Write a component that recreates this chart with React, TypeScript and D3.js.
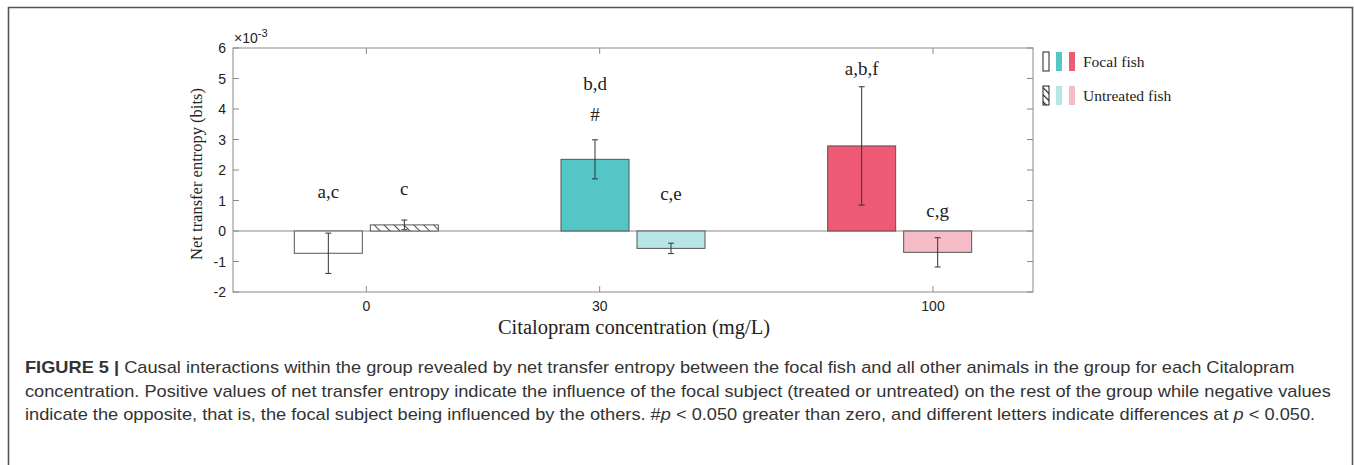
import React from "react";
import * as d3 from "d3";

const concentrations = ["0", "30", "100"];
const tickPositions = [1, 1.875, 3.125];
const focalMean = [-0.73, 2.35, 2.79];
const focalErr = [0.66, 0.64, 1.94];
const untreatedMean = [0.2, -0.57, -0.7];
const untreatedErr = [0.16, 0.17, 0.48];
const focalLabels = [["a,c"], ["b,d", "#"], ["a,b,f"]];
const untreatedLabels = ["c", "c,e", "c,g"];
const focalColors = ["#ffffff", "#53C6C5", "#EE5A74"];
const untreatedColors = ["hatch", "#B7E5E4", "#F5BCC7"];
const yTicks = [-2, -1, 0, 1, 2, 3, 4, 5, 6];
const legendItems = ["Focal fish", "Untreated fish"];
const captionLines = [
  "Causal interactions within the group revealed by net transfer entropy between the focal fish and all other animals in the group for each Citalopram",
  "concentration. Positive values of net transfer entropy indicate the influence of the focal subject (treated or untreated) on the rest of the group while negative values",
  "indicate the opposite, that is, the focal subject being influenced by the others. #",
];

export default function App() {
  const W = 1354, H = 465;
  const left = 233, right = 1033, top = 48, bottom = 292;
  const x = d3.scaleLinear().domain([0.5, 3.5]).range([left, right]);
  const y = d3.scaleLinear().domain([-2, 6]).range([bottom, top]);
  const barW = 68;
  const gap = 8;
  const serif = "'Liberation Serif', 'DejaVu Serif', serif";
  const sans = "'Liberation Sans', Arial, sans-serif";
  const axisColor = "#8a8a8a";
  const barStroke = "#555";

  const fillFor = (c: string) => (c === "hatch" ? "url(#hatch)" : c);

  const bars: any[] = [];
  concentrations.forEach((_, i) => {
    const cx = x(i + 1);
    const groups = [
      { mean: focalMean[i], err: focalErr[i], color: focalColors[i], x0: cx - gap / 2 - barW },
      { mean: untreatedMean[i], err: untreatedErr[i], color: untreatedColors[i], x0: cx + gap / 2 },
    ];
    groups.forEach((g, j) => {
      const y0 = y(Math.max(0, g.mean));
      const h = Math.abs(y(g.mean) - y(0));
      const ex = g.x0 + barW / 2;
      bars.push(
        <g key={`b${i}-${j}`}>
          <rect x={g.x0} y={y0} width={barW} height={h} fill={fillFor(g.color)} stroke={barStroke} strokeWidth={1} />
          <line x1={ex} x2={ex} y1={y(g.mean + g.err)} y2={y(g.mean - g.err)} stroke="#333" strokeWidth={1} />
          <line x1={ex - 3} x2={ex + 3} y1={y(g.mean + g.err)} y2={y(g.mean + g.err)} stroke="#333" strokeWidth={1} />
          <line x1={ex - 3} x2={ex + 3} y1={y(g.mean - g.err)} y2={y(g.mean - g.err)} stroke="#333" strokeWidth={1} />
        </g>
      );
    });
  });

  // annotation label baselines (value-space)
  const focalLabelY = [1.08, 4.62, 5.11];
  const hashY = 3.6;
  const untreatedLabelY = [1.18, 1.02, 0.46];

  const labelProps = { textAnchor: "middle" as const, fontFamily: serif, fontSize: 19, fill: "#222" };
  const labels: any[] = [];
  concentrations.forEach((_, i) => {
    const cx = x(i + 1);
    const fx = cx - gap / 2 - barW / 2;
    const ux = cx + gap / 2 + barW / 2;
    labels.push(
      <text key={`fl${i}`} x={fx} y={y(focalLabelY[i])} {...labelProps}>
        {focalLabels[i][0]}
      </text>
    );
    if (focalLabels[i][1]) {
      labels.push(
        <text key={`fh${i}`} x={fx} y={y(hashY)} {...labelProps}>
          {focalLabels[i][1]}
        </text>
      );
    }
    labels.push(
      <text key={`ul${i}`} x={ux} y={y(untreatedLabelY[i])} {...labelProps}>
        {untreatedLabels[i]}
      </text>
    );
  });

  return (
    <svg width={W} height={H} style={{ position: "absolute", left: 0, top: 0 }}>
      <defs>
        <pattern id="hatch" patternUnits="userSpaceOnUse" width={7} height={7} patternTransform="rotate(-45)">
          <rect width={7} height={7} fill="#fff" />
          <line x1={0} y1={0} x2={0} y2={7} stroke="#222" strokeWidth={1.6} />
        </pattern>
        <pattern id="hatchL" patternUnits="userSpaceOnUse" width={5} height={5} patternTransform="rotate(-45)">
          <rect width={5} height={5} fill="#fff" />
          <line x1={0} y1={0} x2={0} y2={5} stroke="#111" strokeWidth={2.2} />
        </pattern>
      </defs>
      <rect x={0} y={0} width={W} height={H} fill="#fff" />
      <path d={`M8.5,${H + 2} V7.5 H1352.5 V${H + 2}`} fill="none" stroke="#555" strokeWidth={1.6} />

      {/* axes box */}
      <rect x={left} y={top} width={right - left} height={bottom - top} fill="none" stroke={axisColor} strokeWidth={1} />
      <line x1={left} x2={right} y1={y(0)} y2={y(0)} stroke={axisColor} strokeWidth={1} />
      {yTicks.map((t) => (
        <g key={`yt${t}`}>
          <line x1={left} x2={left + 6} y1={y(t)} y2={y(t)} stroke={axisColor} />
          <line x1={right} x2={right - 6} y1={y(t)} y2={y(t)} stroke={axisColor} />
          <text x={left - 7} y={y(t) + 5} textAnchor="end" fontFamily={sans} fontSize={14} fill="#222">
            {t}
          </text>
        </g>
      ))}
      {concentrations.map((c, i) => (
        <g key={`xt${i}`}>
          <line x1={x(tickPositions[i])} x2={x(tickPositions[i])} y1={bottom} y2={bottom - 6} stroke={axisColor} />
          <line x1={x(tickPositions[i])} x2={x(tickPositions[i])} y1={top} y2={top + 6} stroke={axisColor} />
          <text x={x(tickPositions[i])} y={bottom + 19} textAnchor="middle" fontFamily={sans} fontSize={14} fill="#222">
            {c}
          </text>
        </g>
      ))}
      <text x={left + 1} y={top - 5} fontFamily={sans} fontSize={14} fill="#222">
        ×10<tspan dy={-6} fontSize={11}>-3</tspan>
      </text>

      {bars}
      {labels}

      <text transform={`translate(202,${(top + bottom) / 2 + 4}) rotate(-90)`} textAnchor="middle" fontFamily={serif} fontSize={16.5} fill="#222">
        Net transfer entropy (bits)
      </text>
      <text x={(left + right) / 2 + 1} y={334} textAnchor="middle" fontFamily={serif} fontSize={20.5} fill="#222">
        Citalopram concentration (mg/L)
      </text>

      {/* legend */}
      {legendItems.map((name, r) => {
        const ly = 52 + r * 34;
        const cols = r === 0 ? focalColors : untreatedColors;
        return (
          <g key={`lg${r}`}>
            {cols.map((c, k) => (
              <rect
                key={k}
                x={1043 + k * 13}
                y={ly}
                width={6}
                height={19}
                fill={c === "hatch" ? "url(#hatchL)" : c}
                stroke={k === 0 ? "#222" : "none"}
                strokeWidth={1}
              />
            ))}
            <text x={1083} y={ly + 15} fontFamily={serif} fontSize={15.5} fill="#222">
              {name}
            </text>
          </g>
        );
      })}

      {/* caption */}
      <g fontFamily={sans} fontSize={17} fill="#333" transform="translate(25,0) scale(1.072,1)">
        <text x={0} y={373}>
          <tspan fontWeight="bold">FIGURE 5</tspan>
          <tspan fontWeight="bold">{"  |  "}</tspan>
          {captionLines[0]}
        </text>
        <text x={0} y={397}>{captionLines[1]}</text>
        <text x={0} y={420}>
          {captionLines[2]}
          <tspan fontStyle="italic">p</tspan>
          {" < 0.050 greater than zero, and different letters indicate differences at "}
          <tspan fontStyle="italic">p</tspan>
          {" < 0.050."}
        </text>
      </g>
    </svg>
  );
}
